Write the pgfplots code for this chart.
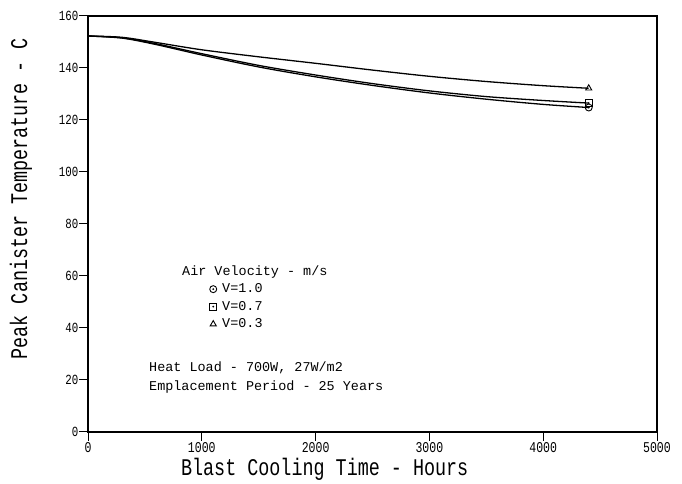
\documentclass[border=0pt]{standalone}
\usepackage{fontspec}
\usepackage{pgfplots}
\pgfplotsset{compat=1.18}
\setmainfont{Liberation Mono}
\newfontfamily\narrowmono[FakeStretch=0.77]{Liberation Mono}

% circle and square with a dot in the middle, as on the plotter
\pgfdeclareplotmark{odot}{%
  \pgfpathcircle{\pgfpointorigin}{\pgfplotmarksize}\pgfusepathqstroke
  \pgfpathcircle{\pgfpointorigin}{0.3\pgfplotmarksize}\pgfusepathqfill}
\pgfdeclareplotmark{sqdot}{%
  \pgfpathrectangle{\pgfpoint{-\pgfplotmarksize}{-\pgfplotmarksize}}{\pgfpoint{2\pgfplotmarksize}{2\pgfplotmarksize}}\pgfusepathqstroke
  \pgfpathcircle{\pgfpointorigin}{0.3\pgfplotmarksize}\pgfusepathqfill}

\begin{document}
\begin{tikzpicture}
\begin{axis}[
    scale only axis,
    width=569bp, height=416bp,
    xmin=0, xmax=5000,
    ymin=0, ymax=160,
    xtick={0,1000,...,5000},
    ytick={0,20,...,160},
    xtick pos=left, ytick pos=left,
    tick align=outside,
    major tick length=9bp,
    axis line style={line width=1.2pt},
    tick style={line width=1pt, black},
    /pgf/number format/assume math mode=true,
    /pgf/number format/1000 sep={},
    xticklabel style={font=\narrowmono\fontsize{15}{15}\selectfont, inner sep=1bp},
    yticklabel style={font=\narrowmono\fontsize{14}{14}\selectfont, inner sep=0.5bp},
    xlabel={Blast Cooling Time - Hours},
    ylabel={Peak Canister Temperature - C},
    label style={font=\narrowmono\fontsize{24}{24}\selectfont},
    xlabel style={at={(axis description cs:0.416,-0.089)}, anchor=center},
    ylabel style={at={(axis description cs:-0.118,0.56)}, anchor=center},
    legend style={draw=none, fill=none, inner sep=0pt, row sep=3bp,
        at={(axis cs:1068,57.8)}, anchor=north west,
        font=\fontsize{13.5}{14}\selectfont},
    legend cell align=left,
    legend image code/.code={%
        \draw[#1, mark indices={1}] plot[only marks] coordinates {(0bp,0bp)};
        \path[draw=none, fill=none] (-3.5bp,-3.5bp) rectangle (7bp,3.5bp);},
    every axis plot/.append style={line width=1.3pt, black, mark size=3.5bp,
        mark options={line width=0.9pt, solid}},
]
% V = 1.0
\addplot[smooth, mark=odot, mark indices={11}] coordinates {
    (0,152.3) (300,151.5) (600,149) (1000,145) (1500,140.4) (2000,136.6)
    (2500,133.3) (3000,130.4) (3500,128) (4000,126) (4400,124.8)
};
\addlegendentry{V=1.0}
% V = 0.7
\addplot[smooth, mark=sqdot, mark indices={11}] coordinates {
    (0,152.3) (300,151.6) (600,149.3) (1000,145.5) (1500,141) (2000,137.3)
    (2500,134) (3000,131.2) (3500,129) (4000,127.5) (4400,126.5)
};
\addlegendentry{V=0.7}
% V = 0.3
\addplot[smooth, mark=triangle, mark indices={11}] coordinates {
    (0,152.3) (300,151.8) (600,149.8) (1000,147) (1500,144.3) (2000,141.8)
    (2500,139.2) (3000,136.8) (3500,134.8) (4000,133.2) (4400,132.2)
};
\addlegendentry{V=0.3}

\node[anchor=west, font=\fontsize{13.5}{14}\selectfont, inner sep=0pt] at (axis cs:826,61.5) {Air Velocity - m/s};
\node[anchor=west, font=\fontsize{13.5}{14}\selectfont, inner sep=0pt] at (axis cs:536,24.6) {Heat Load - 700W, 27W/m2};
\node[anchor=west, font=\fontsize{13.5}{14}\selectfont, inner sep=0pt] at (axis cs:536,17.3) {Emplacement Period - 25 Years};
\end{axis}
\path (current axis.south west) ++(-88bp,-46bp) rectangle ++(682bp,478bp);
\end{tikzpicture}
\end{document}
